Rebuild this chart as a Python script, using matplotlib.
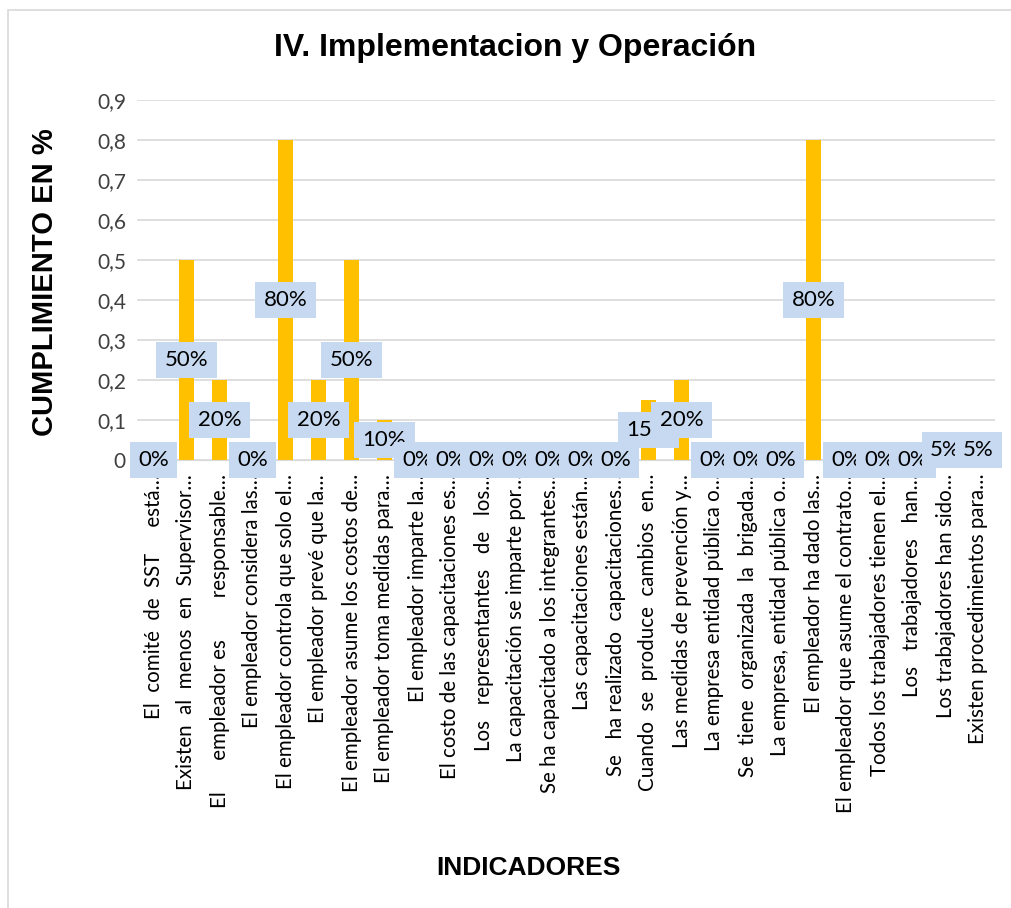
import matplotlib.pyplot as plt
from matplotlib.patches import Rectangle

indicadores = [
    "El  comité  de  SST     está…",
    "Existen  al  menos  en  Supervisor…",
    "El      empleador es        responsable…",
    "El empleador considera las…",
    "El empleador controla que solo el…",
    "El empleador prevé que la…",
    "El empleador asume los costos de…",
    "El empleador toma medidas para…",
    "El empleador imparte la…",
    "El costo de las capacitaciones es…",
    "Los   representantes   de   los…",
    "La capacitación se imparte por…",
    "Se ha capacitado a los integrantes…",
    "Las capacitaciones están…",
    "Se   ha realizado  capacitaciones…",
    "Cuando  se  produce  cambios  en…",
    "Las medidas de prevención y…",
    "La empresa entidad pública o…",
    "Se  tiene  organizada  la  brigada…",
    "La empresa, entidad pública o…",
    "El empleador ha dado las…",
    "El empleador que asume el contrato…",
    "Todos los trabajadores tienen el…",
    "Los   trabajadores   han…",
    "Los trabajadores han sido…",
    "Existen procedimientos para…",
]
cumplimiento = [0, 0.5, 0.2, 0, 0.8, 0.2, 0.5, 0.1, 0, 0, 0, 0, 0, 0, 0,
                0.15, 0.2, 0, 0, 0, 0.8, 0, 0, 0, 0.05, 0.05]
yticks = [0, 0.1, 0.2, 0.3, 0.4, 0.5, 0.6, 0.7, 0.8, 0.9]
ytick_labels = ["0", "0,1", "0,2", "0,3", "0,4", "0,5", "0,6", "0,7", "0,8", "0,9"]

fig = plt.figure(figsize=(10.11, 9.08), dpi=100)
ax = fig.add_axes([137 / 1011, 1 - 460 / 908, (995 - 137) / 1011, 360 / 908])

x = list(range(len(indicadores)))
ax.bar(x, cumplimiento, width=0.45, color="#FFC000", zorder=2)
ax.set_xlim(-0.5, len(indicadores) - 0.5)
ax.set_ylim(0, 0.9)

ax.set_yticks(yticks)
ax.set_yticklabels(ytick_labels, fontsize=15, family="Lato", color="#404040")
ax.set_xticks(x)
ax.set_xticklabels(indicadores, rotation=90, fontsize=14.8, family="Lato",
                   ha="center", va="top")
ax.tick_params(axis="both", length=0, pad=8)
ax.tick_params(axis="x", pad=10)
ax.grid(axis="y", color="#D9D9D9", linewidth=1.2, zorder=0)
for s in ["top", "right", "left"]:
    ax.spines[s].set_visible(False)
ax.spines["bottom"].set_color("#D9D9D9")

# etiquetas de datos centradas en la barra, con fondo azul claro
for xi, v in zip(x, cumplimiento):
    ax.text(xi, v / 2, f"{v:.0%}", ha="center", va="center", fontsize=16,
            family="Lato", zorder=3,
            bbox=dict(boxstyle="square,pad=0.37", fc="#C6D9F0", ec="none"))

fig.text(515 / 1011, 1 - 48 / 908, "IV. Implementacion y Operación",
         ha="center", va="center", fontsize=23, fontweight="bold",
         family="Liberation Sans")
fig.text(45 / 1011, 1 - 282 / 908, "CUMPLIMIENTO EN %", rotation=90,
         ha="center", va="center", fontsize=21, fontweight="bold",
         family="Liberation Sans")
fig.text(528 / 1011, 1 - 868 / 908, "INDICADORES", ha="center", va="center",
         fontsize=19, fontweight="bold", family="Liberation Sans")

# borde del gráfico
fig.patches.append(Rectangle((8 / 1011, -0.1), 1.2, 1 - 10 / 908 + 0.1,
                             transform=fig.transFigure, fill=False,
                             edgecolor="#D9D9D9", linewidth=1.2))

fig.savefig("out.png", dpi=100)
